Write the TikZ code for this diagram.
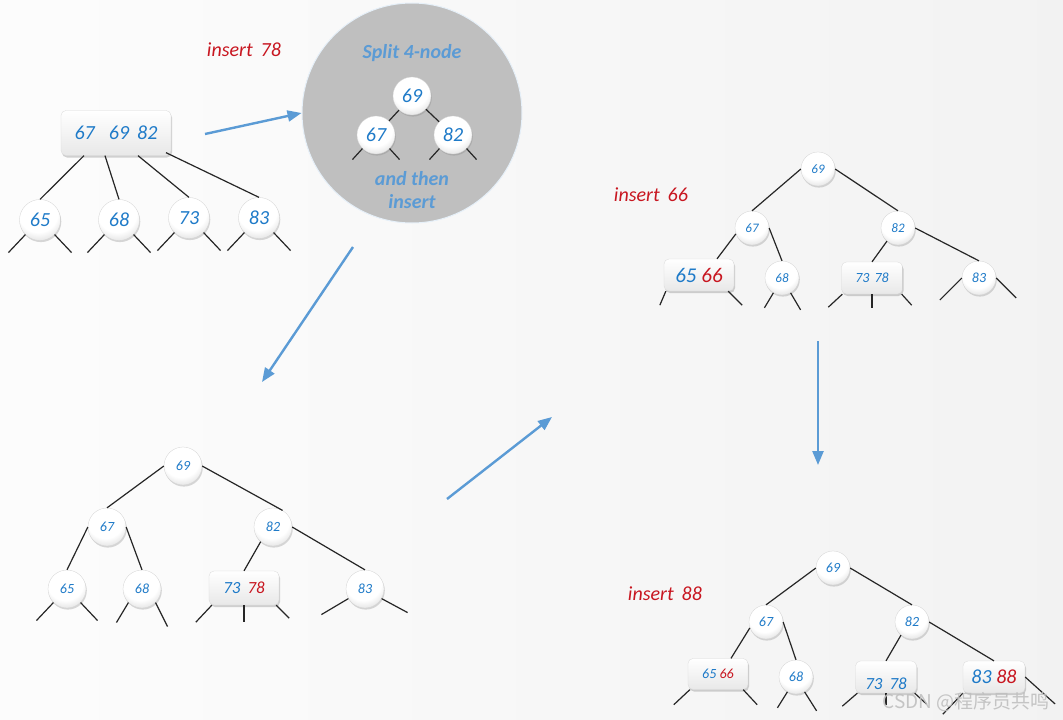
\documentclass[tikz,border=0pt]{standalone}
\usepackage{fontspec}
\setmainfont{Carlito}
\newfontfamily\cjkfont{Noto Sans CJK SC}
\usetikzlibrary{arrows.meta,shadows}

\definecolor{keyblue}{RGB}{30,122,200}
\definecolor{keyred}{RGB}{200,22,32}
\definecolor{flowblue}{RGB}{91,155,213}

\pgfdeclareradialshading{knob}{\pgfpoint{-3bp}{12bp}}{%
  color(0bp)=(white); color(24bp)=(white); color(36bp)=(gray!25);
  color(50bp)=(gray!55); color(100bp)=(gray!60)}

\tikzset{
  ball/.style={circle, inner sep=0pt, draw=gray!35, line width=0.3pt,
    shading=knob, text=keyblue,
    drop shadow={opacity=0.3, shadow xshift=0.8pt, shadow yshift=-1.6pt}},
  keybox/.style={rectangle, rounded corners=5pt, inner sep=0pt, draw=gray!30,
    line width=0.3pt, top color=white, bottom color=gray!18, text=keyblue,
    drop shadow={opacity=0.35, shadow xshift=1pt, shadow yshift=-2pt}},
  link/.style={line width=1.2pt, black!85},
  flow/.style={line width=2.4pt, flowblue, -{Triangle[length=14pt,width=11pt]}},
  tag/.style={text=keyred, font=\itshape\fontsize{20}{24}\selectfont},
  splittxt/.style={text=flowblue, align=center, font=\bfseries\itshape\fontsize{20}{23}\selectfont},
  f13/.style={font=\itshape\fontsize{13}{15}\selectfont},
  f14/.style={font=\itshape\fontsize{14}{16}\selectfont},
  f17/.style={font=\itshape\fontsize{17}{19}\selectfont},
  f20/.style={font=\itshape\fontsize{20}{22}\selectfont},
}

\begin{document}
\begin{tikzpicture}[x=1pt, y=-1pt]
  \shade[left color=gray!2, right color=gray!10] (0,0) rectangle (1063,720);
  \useasboundingbox (0,0) rectangle (1063,720);

  % tree A : the 4-node before the split
  \node[tag] (ins78) at (244,50) {insert\hspace{8pt}78};
  \node[keybox, minimum width=110, minimum height=45, f20] (a4) at (116,133)
    {67\hspace{14pt}69\hspace{8pt}82};
  \node[ball, minimum size=41, f20] (a65) at (40,220) {65};
  \node[ball, minimum size=41, f20] (a68) at (119,220) {68};
  \node[ball, minimum size=41, f20] (a73) at (189,218) {73};
  \node[ball, minimum size=41, f20] (a83) at (259,218) {83};
  \draw[link] ([xshift=-32pt]a4.south) -- (a65.north);
  \draw[link] ([xshift=-11pt]a4.south) -- (a68.north);
  \draw[link] ([xshift=22pt]a4.south) -- (a73.north);
  \draw[link] ([xshift=50pt,yshift=3pt]a4.south) -- (a83.north);
  \foreach \n in {a65,a68,a73,a83} {
    \draw[link] (\n.-135) -- ++(-17,18);
    \draw[link] (\n.-45) -- ++(17,18);
  }

  % bubble : split the 4-node
  \node[circle, fill=gray!50, draw=flowblue!15, line width=1pt, minimum size=220] (sp) at (412,113) {};
  \node[splittxt] (sptop) at (412,53) {Split 4-node};
  \node[ball, minimum size=38, f20] (s69) at (412,96) {69};
  \node[ball, minimum size=38, f20] (s67) at (376,135) {67};
  \node[ball, minimum size=38, f20] (s82) at (453,135) {82};
  \draw[link] (s69) -- (s67);
  \draw[link] (s69) -- (s82);
  \foreach \n in {s67,s82} {
    \draw[link] (\n.-135) -- ++(-10,11);
    \draw[link] (\n.-45) -- ++(10,11);
  }
  \node[splittxt] (spbot) at (412,190) {and then\\insert};

  % flow arrows between the steps
  \coordinate (f1) at (205,134);
  \coordinate (f2a) at (353,247);
  \coordinate (f2b) at (262,382);
  \coordinate (f3a) at (447,499);
  \coordinate (f3b) at (552,417);
  \coordinate (f4a) at (818,341);
  \coordinate (f4b) at (818,465);
  \draw[flow] (f1) -- (sp.west);
  \draw[flow] (f2a) -- (f2b);
  \draw[flow] (f3a) -- (f3b);
  \draw[flow] (f4a) -- (f4b);

  % tree B : after inserting 78
  \node[ball, minimum size=38, f14] (b69) at (183,466) {69};
  \node[ball, minimum size=38, f14] (b67) at (107,527) {67};
  \node[ball, minimum size=38, f14] (b82) at (273,527) {82};
  \node[ball, minimum size=38, f14] (b65) at (67,589) {65};
  \node[ball, minimum size=38, f14] (b68) at (142,589) {68};
  \node[keybox, minimum width=70, minimum height=34, f17] (b7378) at (244,588)
    {73\hspace{7pt}\textcolor{keyred}{78}};
  \node[ball, minimum size=38, f14] (b83) at (365,589) {83};
  \draw[link] (b69.west) -- (b67.north);
  \draw[link] (b69.east) -- (b82.60);
  \draw[link] (b67.west) -- (b65.north);
  \draw[link] (b67.east) -- (b68.north);
  \draw[link] (b82.230) -- (b7378.north);
  \draw[link] (b82.east) -- (b83.north);
  \draw[link] (b65.-135) -- ++(-17,18);
  \draw[link] (b65.-45) -- ++(17,18);
  \draw[link] (b68.-135) -- ++(-12,20);
  \draw[link] (b68.-45) -- ++(12,24);
  \draw[link] ([xshift=3pt]b7378.south west) -- ++(-16,17);
  \draw[link] (b7378.south) -- ++(0,17);
  \draw[link] ([xshift=-3pt]b7378.south east) -- ++(13,13);
  \draw[link] (b83.-150) -- ++(-27,16);
  \draw[link] (b83.-30) -- ++(26,14);

  % tree C : insert 66
  \node[tag] (ins66) at (651,195) {insert\hspace{8pt}66};
  \node[ball, minimum size=34, f13] (c69) at (818,169) {69};
  \node[ball, minimum size=34, f13] (c67) at (752,228) {67};
  \node[ball, minimum size=34, f13] (c82) at (898,228) {82};
  \node[keybox, minimum width=70, minimum height=32, font=\itshape\fontsize{21}{23}\selectfont] (c6566) at (699,275)
    {65 \textcolor{keyred}{66}};
  \node[ball, minimum size=34, f13] (c68) at (782,278) {68};
  \node[keybox, minimum width=61, minimum height=32, f14] (c7378) at (872,278)
    {73\hspace{5pt}78};
  \node[ball, minimum size=34, f14] (c83) at (979,278) {83};
  \draw[link] (c69.west) -- (c67.north);
  \draw[link] (c69.east) -- (c82.north);
  \draw[link] (c67.200) -- ([xshift=18pt]c6566.north);
  \draw[link] (c67.east) -- (c68.north);
  \draw[link] (c82.230) -- (c7378.north);
  \draw[link] (c82.east) -- (c83.north);
  \draw[link] ([xshift=2pt]c6566.south west) -- ++(-6,14);
  \draw[link] ([xshift=-6pt]c6566.south east) -- ++(14,14);
  \draw[link] (c68.-120) -- ++(-9,15);
  \draw[link] (c68.-60) -- ++(10,17);
  \draw[link] ([xshift=1pt]c7378.south west) -- ++(-14,13);
  \draw[link] (c7378.south) -- ++(0,14);
  \draw[link] ([xshift=-1pt]c7378.south east) -- ++(10,11);
  \draw[link] (c83.west) -- ++(-22,22);
  \draw[link] (c83.east) -- ++(20,20);

  % tree D : insert 88
  \node[tag] (ins88) at (665,594) {insert\hspace{8pt}88};
  \node[ball, minimum size=34, f14] (d69) at (833,568) {69};
  \node[ball, minimum size=34, f14] (d67) at (766,622) {67};
  \node[ball, minimum size=34, f14] (d82) at (912,622) {82};
  \node[keybox, minimum width=60, minimum height=31, f14] (d6566) at (718,674)
    {65 \textcolor{keyred}{66}};
  \node[ball, minimum size=34, f14] (d68) at (796,677) {68};
  \node[keybox, minimum width=61, minimum height=32, f17] (d7378) at (886,677)
    {\raisebox{-12pt}[0pt][0pt]{73\hspace{7pt}78}};
  \node[keybox, minimum width=62, minimum height=32, f20] (d8388) at (994,677)
    {83 \textcolor{keyred}{88}};
  \draw[link] (d69.west) -- (d67.north);
  \draw[link] (d69.east) -- (d82.north);
  \draw[link] (d67.200) -- ([xshift=13pt]d6566.north);
  \draw[link] (d67.east) -- (d68.north);
  \draw[link] (d82.230) -- (d7378.north);
  \draw[link] (d82.east) -- (d8388.north);
  \draw[link] ([xshift=2pt]d6566.south west) -- ++(-16,15);
  \draw[link] ([xshift=-5pt]d6566.south east) -- ++(14,15);
  \draw[link] (d68.-120) -- ++(-10,16);
  \draw[link] (d68.-60) -- ++(12,19);
  \draw[link] ([xshift=2pt]d7378.south west) -- ++(-15,13);
  \draw[link] (d7378.south) -- ++(0,12);
  \draw[link] ([xshift=-2pt]d7378.south east) -- ++(12,11);
  \draw[link] (d8388.south west) -- ++(-20,21);
  \draw[link] (d8388.east) -- ++(30,27);

  % watermark
  \node[text=gray!50, opacity=0.9, font=\cjkfont\upshape\fontsize{19}{22}\selectfont] (mark) at (966,702)
    {CSDN @程序员共鸣};
\end{tikzpicture}
\end{document}
